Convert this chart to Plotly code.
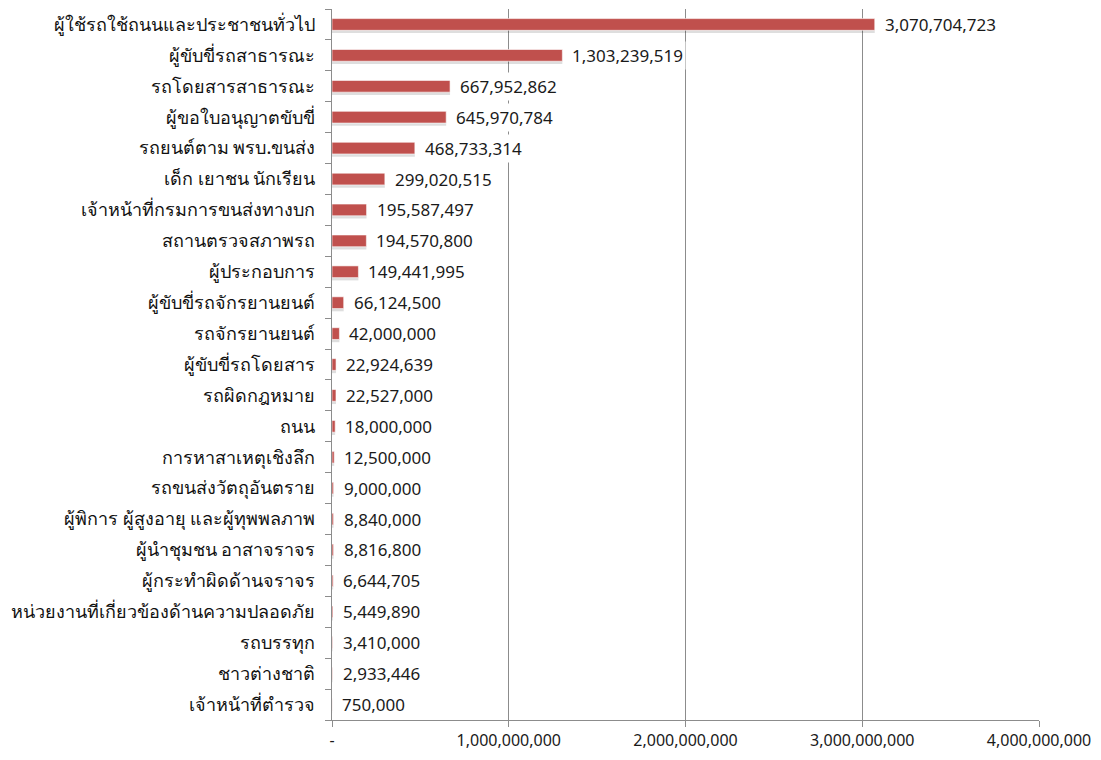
import plotly.graph_objects as go

categories = [
    "ผู้ใช้รถใช้ถนนและประชาชนทั่วไป",
    "ผู้ขับขี่รถสาธารณะ",
    "รถโดยสารสาธารณะ",
    "ผู้ขอใบอนุญาตขับขี่",
    "รถยนต์ตาม พรบ.ขนส่ง",
    "เด็ก เยาชน นักเรียน",
    "เจ้าหน้าที่กรมการขนส่งทางบก",
    "สถานตรวจสภาพรถ",
    "ผู้ประกอบการ",
    "ผู้ขับขี่รถจักรยานยนต์",
    "รถจักรยานยนต์",
    "ผู้ขับขี่รถโดยสาร",
    "รถผิดกฎหมาย",
    "ถนน",
    "การหาสาเหตุเชิงลึก",
    "รถขนส่งวัตถุอันตราย",
    "ผู้พิการ ผู้สูงอายุ และผู้ทุพพลภาพ",
    "ผู้นำชุมชน อาสาจราจร",
    "ผู้กระทำผิดด้านจราจร",
    "หน่วยงานที่เกี่ยวข้องด้านความปลอดภัย",
    "รถบรรทุก",
    "ชาวต่างชาติ",
    "เจ้าหน้าที่ตำรวจ",
]

budget = [
    3070704723, 1303239519, 667952862, 645970784, 468733314, 299020515,
    195587497, 194570800, 149441995, 66124500, 42000000, 22924639,
    22527000, 18000000, 12500000, 9000000, 8840000, 8816800, 6644705,
    5449890, 3410000, 2933446, 750000,
]

x_tick_vals = [0, 1000000000, 2000000000, 3000000000, 4000000000]
x_tick_text = ["-", "1,000,000,000", "2,000,000,000", "3,000,000,000", "4,000,000,000"]

rows = list(range(len(categories)))
FONT = "Noto Sans, Tahoma, sans-serif"
BAR = "#C0504D"

fig = go.Figure()

# soft drop shadow behind each bar
fig.add_trace(go.Bar(
    x=budget, y=[r + 0.08 for r in rows], orientation="h",
    width=0.40, marker=dict(color="rgba(0,0,0,0.13)", line_width=0),
    hoverinfo="skip", showlegend=False,
))

fig.add_trace(go.Bar(
    x=budget, y=rows, orientation="h",
    width=0.38,
    marker=dict(color=BAR, line=dict(color="#FFFFFF", width=0.6)),
    showlegend=False,
))

# value labels on white boxes just past the end of each bar
for r, v in zip(rows, budget):
    fig.add_annotation(
        x=v, y=r, xref="x", yref="y",
        text=f"{v:,}", showarrow=False,
        xanchor="left", yanchor="middle", xshift=7,
        bgcolor="white", borderpad=2,
        font=dict(family=FONT, size=17, color="#1a1a1a"),
    )

fig.update_layout(
    width=1101, height=760,
    margin=dict(l=332, r=62, t=9, b=31),
    paper_bgcolor="white", plot_bgcolor="white",
    barmode="overlay",
    font=dict(family=FONT, color="#1a1a1a"),
    xaxis=dict(
        range=[0, 4000000000],
        tickvals=x_tick_vals, ticktext=x_tick_text,
        showgrid=True, gridcolor="#8C8C8C", gridwidth=1,
        showline=True, linecolor="#8C8C8C", linewidth=1,
        ticks="outside", ticklen=6, tickcolor="#8C8C8C",
        tickfont=dict(family=FONT, size=16, color="#1a1a1a"),
        zeroline=False,
    ),
    yaxis=dict(
        range=[len(categories) - 0.5, -0.5],
        tickvals=rows, ticktext=categories,
        ticks="", showgrid=False, zeroline=False,
        showline=True, linecolor="#8C8C8C", linewidth=1,
        tickfont=dict(family=FONT, size=18, color="#111111", weight=500),
        ticklabelstandoff=12,
        minor=dict(
            tickvals=[r - 0.5 for r in rows] + [len(rows) - 0.5],
            ticks="outside", ticklen=6, tickcolor="#8C8C8C", showgrid=False,
        ),
    ),
)

fig.write_html("out.html")
